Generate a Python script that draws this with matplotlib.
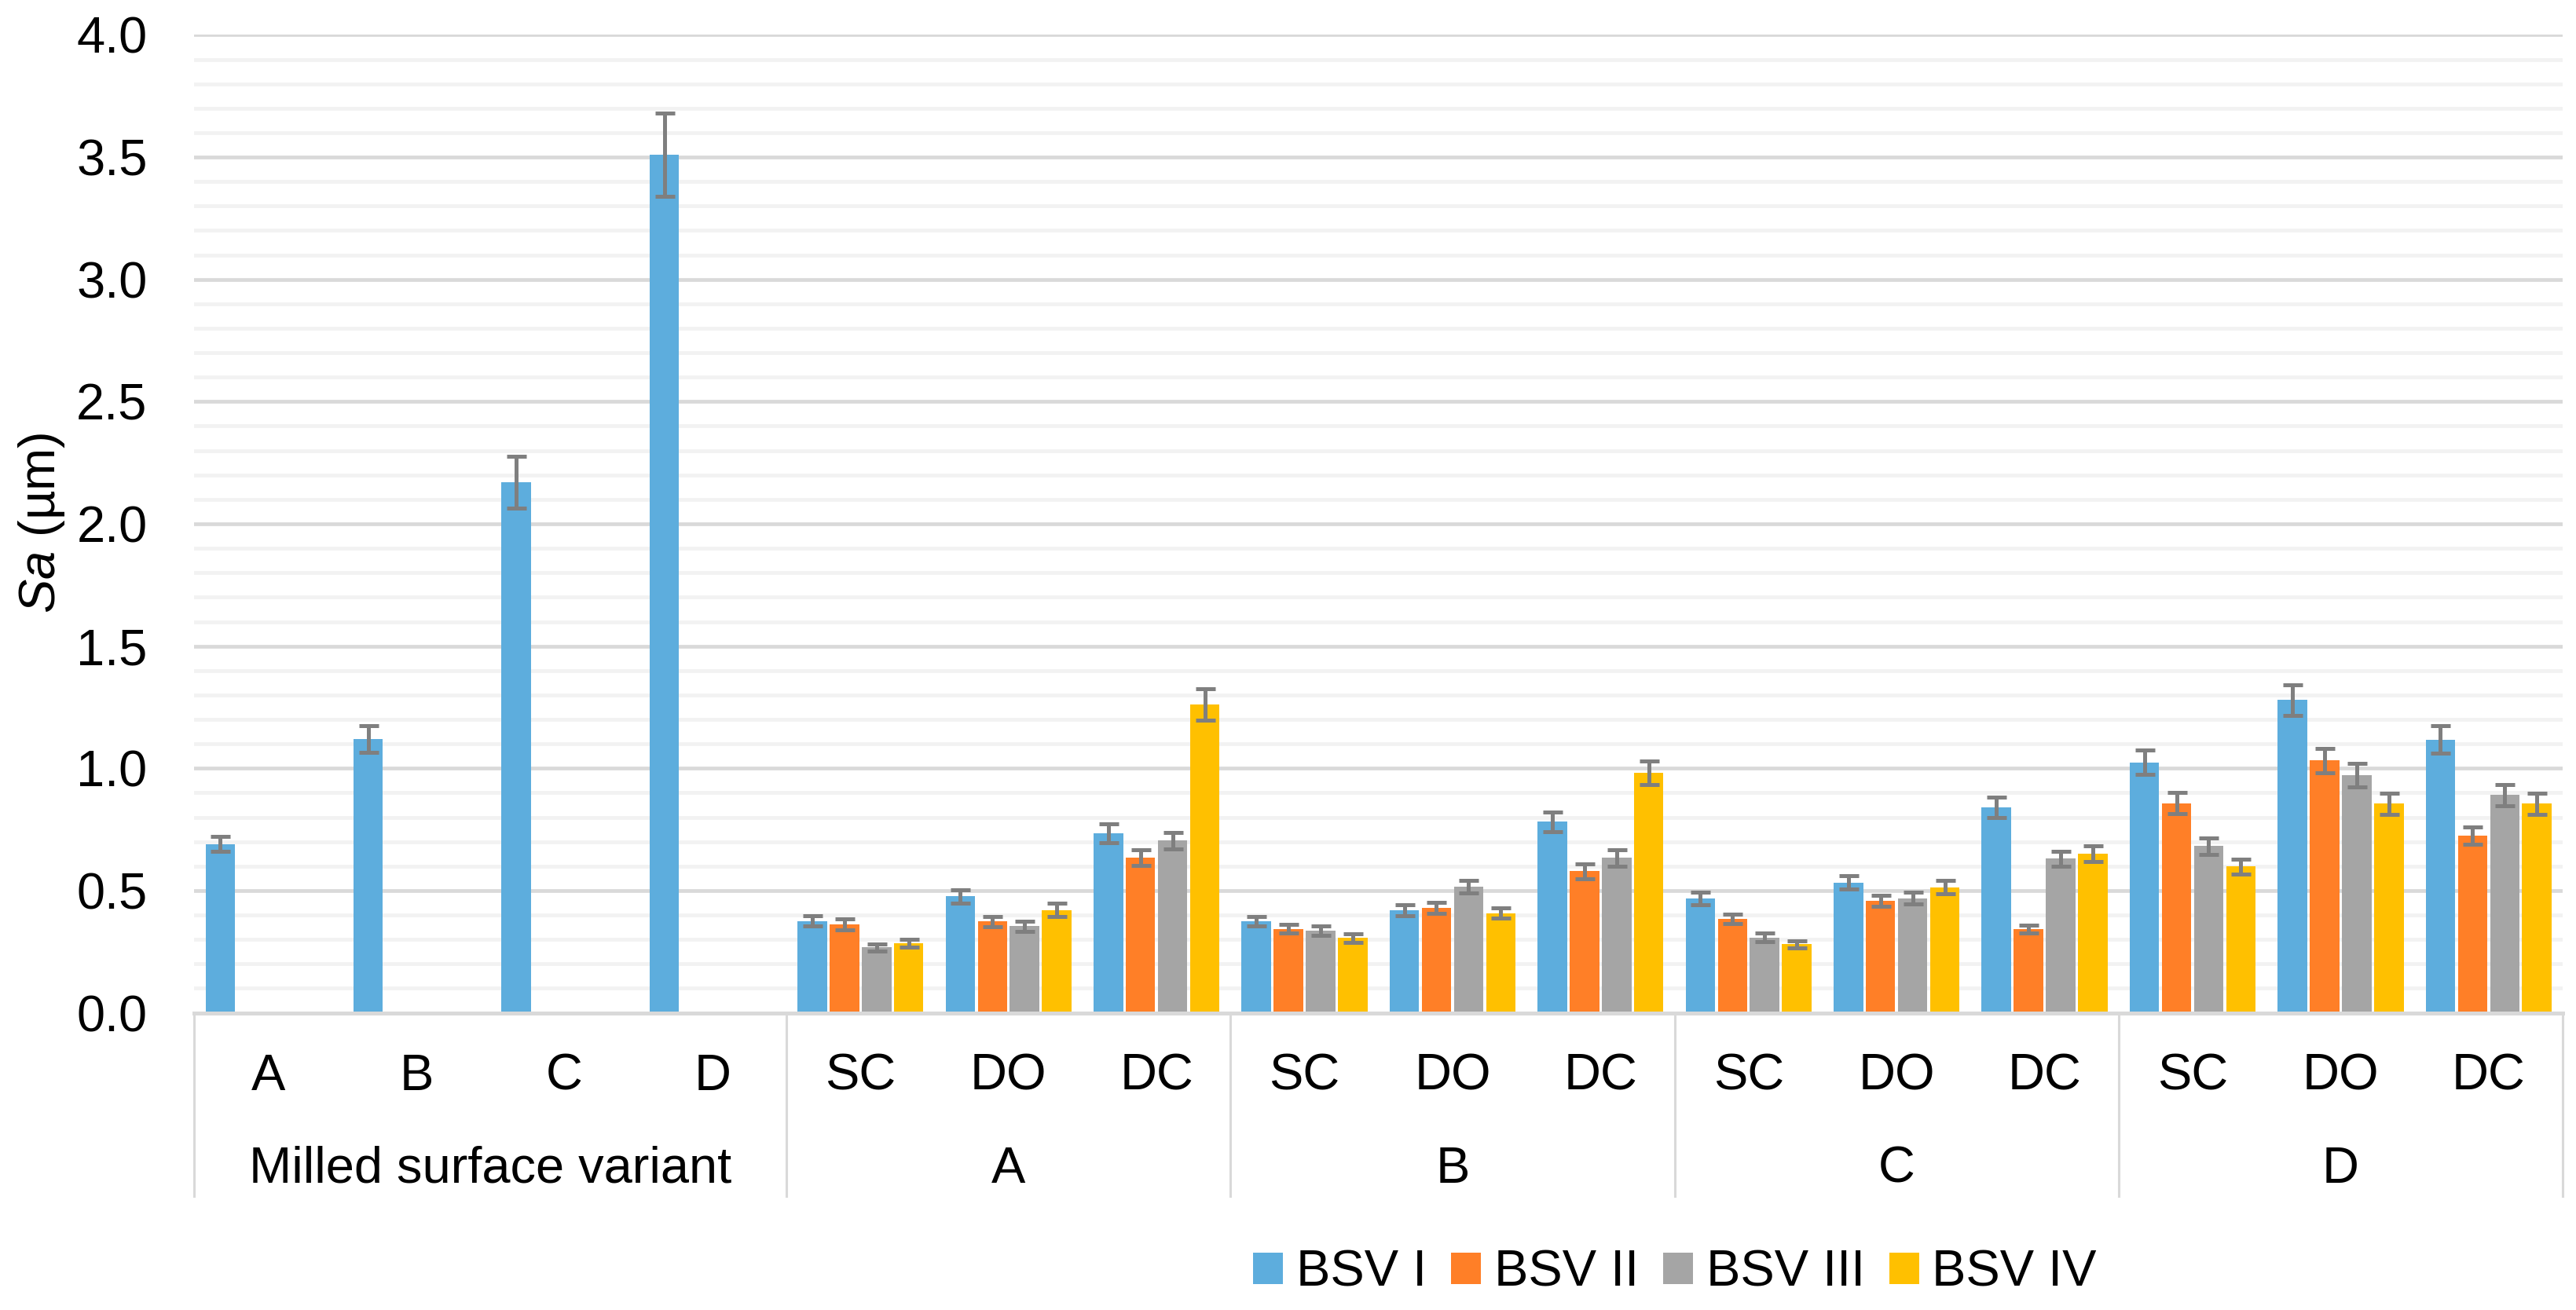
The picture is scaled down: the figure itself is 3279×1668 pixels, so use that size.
import numpy as np
import matplotlib
matplotlib.use("Agg")
import matplotlib.pyplot as plt
from matplotlib.patches import Patch
from matplotlib.ticker import MultipleLocator, FormatStrFormatter

plt.rcParams['font.family'] = ['Liberation Sans', 'DejaVu Sans']
plt.rcParams['mathtext.fontset'] = 'custom'
plt.rcParams['mathtext.rm'] = 'Liberation Sans'
plt.rcParams['mathtext.it'] = 'Liberation Sans:italic'

# ---------------- data ----------------
sub_labels = ["A", "B", "C", "D",
              "SC", "DO", "DC",
              "SC", "DO", "DC",
              "SC", "DO", "DC",
              "SC", "DO", "DC"]
group_labels = ["Milled surface variant", "A", "B", "C", "D"]
group_sizes = [4, 3, 3, 3, 3]
series_names = ["BSV I", "BSV II", "BSV III", "BSV IV"]

nan = np.nan
bsv1 = [0.69, 1.12, 2.17, 3.51, 0.376, 0.477, 0.734, 0.374, 0.420, 0.782,
        0.468, 0.533, 0.841, 1.025, 1.280, 1.118]
bsv1_err = [0.03, 0.055, 0.107, 0.17, 0.022, 0.027, 0.039, 0.02, 0.022, 0.04,
            0.025, 0.027, 0.042, 0.05, 0.063, 0.056]
bsv2 = [nan, nan, nan, nan, 0.361, 0.373, 0.635, 0.344, 0.430, 0.579,
        0.385, 0.459, 0.343, 0.858, 1.032, 0.724]
bsv2_err = [nan, nan, nan, nan, 0.022, 0.022, 0.033, 0.018, 0.022, 0.03,
            0.02, 0.023, 0.017, 0.042, 0.05, 0.035]
bsv3 = [nan, nan, nan, nan, 0.268, 0.354, 0.704, 0.335, 0.516, 0.634,
        0.308, 0.469, 0.630, 0.682, 0.971, 0.891]
bsv3_err = [nan, nan, nan, nan, 0.015, 0.02, 0.034, 0.019, 0.027, 0.033,
            0.017, 0.024, 0.03, 0.034, 0.048, 0.043]
bsv4 = [nan, nan, nan, nan, 0.285, 0.421, 1.262, 0.306, 0.408, 0.981,
        0.280, 0.514, 0.651, 0.598, 0.855, 0.855]
bsv4_err = [nan, nan, nan, nan, 0.017, 0.026, 0.065, 0.017, 0.022, 0.049,
            0.015, 0.026, 0.032, 0.03, 0.043, 0.043]

values = [bsv1, bsv2, bsv3, bsv4]
errors = [bsv1_err, bsv2_err, bsv3_err, bsv4_err]
colors = ["#5DADDD", "#FF7F27", "#A5A5A5", "#FFC000"]

# ---------------- figure ----------------
W, H = 3280, 1668
DPI = 200
fig = plt.figure(figsize=(W / DPI, H / DPI), dpi=DPI)
left_px, right_px = 247.5, 3262
top_px, bottom_px = 44.4, 1289.6
ax = fig.add_axes([left_px / W, 1 - bottom_px / H,
                   (right_px - left_px) / W, (bottom_px - top_px) / H])

FS = 23.4
n_cat = len(sub_labels)
x = np.arange(n_cat) + 0.5
bar_w = 0.199
step = 0.2172

for i, (vals, errs, c, name) in enumerate(zip(values, errors, colors, series_names)):
    pos = x + (i - 1.5) * step
    v = np.array(vals, dtype=float)
    e = np.array(errs, dtype=float)
    ax.bar(pos, v, width=bar_w, color=c, zorder=3, label=name)
    m = ~np.isnan(v)
    ax.errorbar(pos[m], v[m], yerr=e[m], fmt='none', ecolor='#7F7F7F',
                elinewidth=1.8, capsize=4.5, capthick=1.8, zorder=4)

ax.set_xlim(0, n_cat)
ax.set_ylim(0, 4.0)
ax.yaxis.set_major_locator(MultipleLocator(0.5))
ax.yaxis.set_minor_locator(MultipleLocator(0.1))
ax.yaxis.set_major_formatter(FormatStrFormatter('%.1f'))
ax.grid(which='minor', axis='y', color='#F2F2F2', linewidth=1.7, zorder=0)
ax.grid(which='major', axis='y', color='#D9D9D9', linewidth=1.7, zorder=1)
ax.set_axisbelow(True)
ax.tick_params(axis='y', which='both', length=0, pad=21.6, labelsize=FS)
ax.set_xticks([])
for s in ['top', 'right', 'left']:
    ax.spines[s].set_visible(False)
ax.spines['bottom'].set_color('#D9D9D9')
ax.spines['bottom'].set_linewidth(1.8)
ax.spines['bottom'].set_zorder(5)

# y label
fig.text(53 / W, 1 - 666 / H, r'$\mathit{Sa}$ (µm)', rotation=90,
         ha='center', va='center', fontsize=FS)

# multi-level category axis
trans = ax.get_xaxis_transform()
axh = bottom_px - top_px
sub_base = -(1388 - bottom_px) / axh
grp_base = -(1506 - bottom_px) / axh
sep_bottom = -(1523 - bottom_px) / axh

for xi, lab in zip(x, sub_labels):
    ax.text(xi, sub_base, lab, transform=trans, ha='center', va='baseline',
            fontsize=FS, clip_on=False)

start = 0
bounds = [0]
for g, size in zip(group_labels, group_sizes):
    ax.text(start + size / 2, grp_base, g, transform=trans, ha='center',
            va='baseline', fontsize=FS, clip_on=False)
    start += size
    bounds.append(start)
for b in bounds:
    ax.plot([b, b], [0, sep_bottom], transform=trans, color='#D9D9D9',
            linewidth=1.1, clip_on=False, zorder=2)

# legend
handles = [Patch(facecolor=c, edgecolor='none', label=n) for c, n in zip(colors, series_names)]
fig.legend(handles=handles, loc='center', ncol=4, frameon=False,
           bbox_to_anchor=(2132 / W, 1 - 1621 / H), fontsize=FS,
           handlelength=0.59, handleheight=0.59, handletextpad=0.25,
           columnspacing=0.48, borderpad=0, borderaxespad=0)

fig.savefig('out.png', dpi=DPI, facecolor='white')
